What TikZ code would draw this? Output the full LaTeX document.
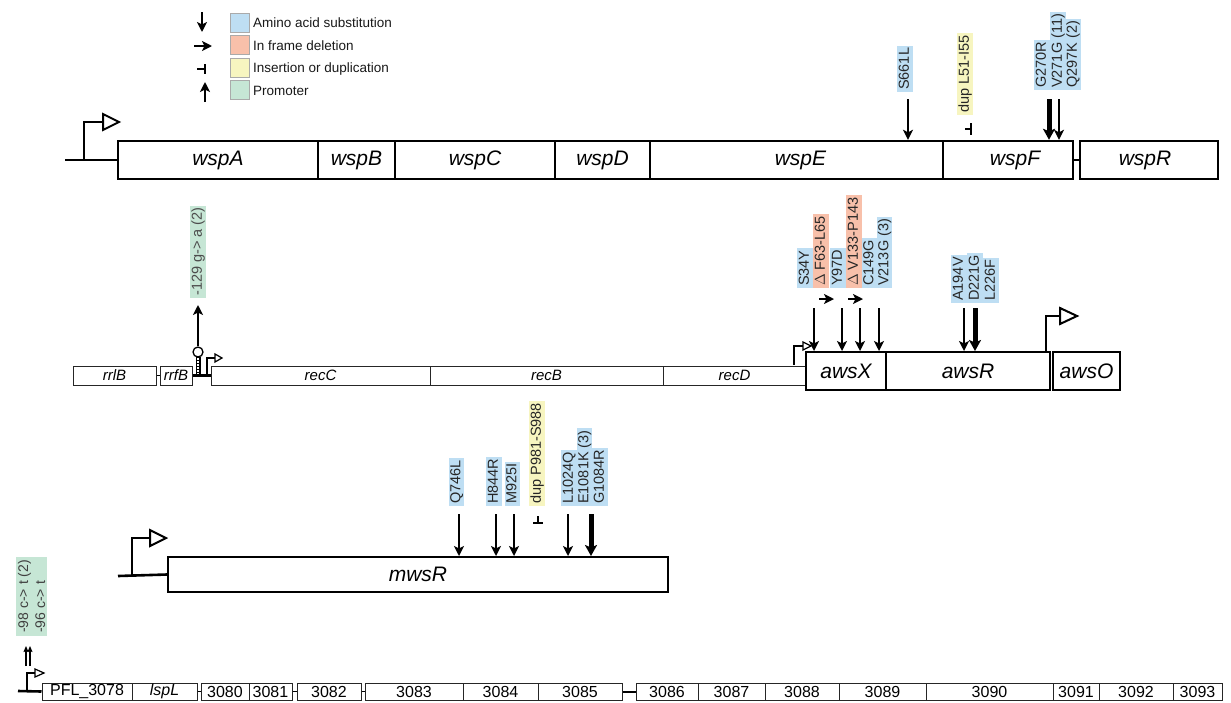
\documentclass[tikz,border=0pt]{standalone}
\usepackage{fontspec}
\setmainfont{Liberation Sans}
\usetikzlibrary{arrows.meta,calc}
\definecolor{blu}{RGB}{190,222,243}
\definecolor{sal}{RGB}{248,192,170}
\definecolor{yel}{RGB}{247,245,192}
\definecolor{grn}{RGB}{198,230,213}
\definecolor{lgray}{RGB}{170,170,170}
\begin{document}
\begin{tikzpicture}[x=1pt,y=-1pt,
  gthick/.style={draw, line width=2.4pt, rectangle, inner sep=0pt, fill=white, font=\fontsize{21}{24}\selectfont\itshape},
  gmid/.style={draw, line width=2pt, rectangle, inner sep=0pt, fill=white, font=\fontsize{21}{24}\selectfont\itshape},
  gthin/.style={draw=black!85, line width=1pt, rectangle, inner sep=0pt, fill=white, minimum height=19pt, font=\fontsize{15}{18}\selectfont\itshape},
  gbot/.style={draw=black!85, line width=1pt, rectangle, inner sep=0pt, fill=white, minimum height=17pt, font=\fontsize{16}{18}\selectfont},
  mlab/.style={rotate=90, anchor=west, inner xsep=2pt, inner ysep=1.2pt, text height=10.5pt, text depth=3pt, font=\fontsize{14.5}{16}\selectfont, text=black!85},
  legbox/.style={draw=lgray, line width=1.5pt, minimum width=19pt, minimum height=19pt, inner sep=0pt},
  legtext/.style={anchor=west, inner sep=0pt, font=\fontsize{13.5}{16}\selectfont, text=black!90},
  dn/.style={-{Stealth[length=10pt,width=10pt,inset=2.5pt]}, line width=2.2pt},
  dnthick/.style={-{Stealth[length=11pt,width=12pt,inset=2.5pt]}, line width=5pt},
  thinup/.style={-{Stealth[length=6pt,width=5pt,inset=1pt]}, line width=1.2pt},
  prom/.style={line width=2pt},
  promthin/.style={line width=1.2pt},
  base/.style={line width=2.6pt},
  ins/.style={line width=2.2pt}
]
\fill[white] (0,0) rectangle (1231,702);
\useasboundingbox (0,0) rectangle (1231,702);

% ---------------- legend ----------------
\coordinate (l1a) at (202,12); \coordinate (l1b) at (202,32);
\draw[dn] (l1a) -- (l1b);
\coordinate (l2a) at (194,46); \coordinate (l2b) at (212,46);
\draw[dn] (l2a) -- (l2b);
\coordinate (l3a) at (197,69); \coordinate (l3b) at (205,69);
\draw[ins] (l3a) -- (l3b);
\draw[line width=2.6pt] ($(l3b)+(0,-5)$) -- ($(l3b)+(0,5)$);
\coordinate (l4a) at (205,102); \coordinate (l4b) at (205,82);
\draw[dn] (l4a) -- (l4b);
\node[legbox, fill=blu] (lb1) at (240,23) {};
\node[legbox, fill=sal] (lb2) at (240,45) {};
\node[legbox, fill=yel] (lb3) at (240,68) {};
\node[legbox, fill=grn] (lb4) at (240,90) {};
\node[legtext] (lt1) at (253,23) {Amino acid substitution};
\node[legtext] (lt2) at (253,46) {In frame deletion};
\node[legtext] (lt3) at (253,69) {Insertion or duplication};
\node[legtext] (lt4) at (253,91) {Promoter};

% ---------------- wsp operon ----------------
\node[gthick, minimum width=200pt, minimum height=38pt] (wspA) at (218,160) {wspA};
\node[gthick, minimum width=77pt, minimum height=38pt] (wspB) at (356.5,160) {wspB};
\node[gthick, minimum width=160pt, minimum height=38pt] (wspC) at (475,160) {wspC};
\node[gthick, minimum width=95pt, minimum height=38pt] (wspD) at (602.5,160) {wspD};
\node[gthick, minimum width=293pt, minimum height=38pt] (wspE) at (796.5,160) {\hspace*{8pt}wspE};
\node[gthick, minimum width=130pt, minimum height=38pt] (wspF) at (1008,160) {\hspace*{14pt}wspF};
\node[gthick, minimum width=138pt, minimum height=38pt] (wspR) at (1149,160) {wspR\hspace*{8pt}};
\draw[base] (wspF.east) -- (wspR.west);
\coordinate (wstart) at (65,160);
\draw[base] (wstart) -- (wspA.west);
\coordinate (wp) at (84,160);
\draw[prom] (wp) |- (103,122);
\draw[prom, fill=white] (103,114) -- (119,122) -- (103,130) -- cycle;

\node[mlab, fill=blu] (S661L) at (905,92) {S661L};
\node[mlab, fill=yel] (dupL51) at (965,115) {dup L51-I55};
\node[mlab, fill=blu] (G270R) at (1042,90) {G270R};
\node[mlab, fill=blu] (V271G) at (1058,90) {V271G (11)};
\node[mlab, fill=blu] (Q297K) at (1073,90) {Q297K (2)};
\coordinate (aS661L) at (908,99);
\draw[dn] (aS661L) -- (aS661L |- wspE.north);
\coordinate (aG270R) at (1049,99);
\draw[dnthick] (aG270R) -- (aG270R |- wspF.north);
\coordinate (aV271G) at (1059,99);
\draw[dn] (aV271G) -- (aV271G |- wspF.north);
\coordinate (iL51) at (971,129);
\draw[ins] ($(iL51)+(-6,0)$) -- (iL51);
\draw[line width=2.6pt] ($(iL51)+(0,-6)$) -- ($(iL51)+(0,6)$);

% ---------------- rec / aws region ----------------
\node[gthin, minimum width=83pt] (rrlB) at (114.5,375.5) {rrlB};
\node[gthin, minimum width=32pt] (rrfB) at (176,375.5) {rrfB};
\node[gthin, minimum width=219pt] (recC) at (320.5,375.5) {recC};
\node[gthin, minimum width=233pt] (recB) at (546.5,375.5) {recB};
\node[gthin, minimum width=143pt] (recD) at (734.5,375.5) {recD};
\draw[line width=1.5pt] (rrlB.east) -- (rrfB.west);
\draw[base] (rrfB.east) -- (recC.west);
% terminator hairpin
\draw[line width=5pt] (198,357) -- (198,375);
\draw[white, line width=1.6pt, dash pattern=on 1.5pt off 1.5pt] (198,358) -- (198,374);
\node[circle, draw, line width=1.3pt, fill=white, minimum size=10pt, inner sep=0pt] (hp) at (198,352) {};
% small promoter
\coordinate (rp) at (207,376);
\draw[promthin] (rp) |- (215,358);
\draw[promthin, fill=white] (215,354) -- (222,358) -- (215,362) -- cycle;
\node[mlab, fill=grn, text=black!70] (p129) at (198,298) {-129 g-> a (2)};
\draw[dn] (hp.north) -- ($(p129.west)+(0,7)$);

\node[gmid, minimum width=80pt, minimum height=38pt] (awsX) at (846,371) {awsX};
\node[gmid, minimum width=164pt, minimum height=38pt] (awsR) at (968,371) {awsR};
\node[gmid, minimum width=67pt, minimum height=38pt] (awsO) at (1086.5,371) {awsO};
\coordinate (xp) at (794,365);
\draw[promthin] (xp) |- (803,346);
\draw[promthin, fill=white] (803,342) -- (811,346) -- (803,350) -- cycle;
\coordinate (op) at (1046,352);
\draw[prom] (op) |- (1060,316);
\draw[prom, fill=white] (1060,308) -- (1077,316) -- (1060,324) -- cycle;

\node[mlab, fill=blu] (S34Y) at (805,288) {S34Y};
\node[mlab, fill=sal] (F63) at (821,288) {$\Delta$ F63-L65};
\node[mlab, fill=blu] (Y97D) at (838,288) {Y97D};
\node[mlab, fill=sal] (V133) at (854,288) {$\Delta$ V133-P143};
\node[mlab, fill=blu] (C149G) at (869.5,288) {C149G};
\node[mlab, fill=blu] (V213G) at (884.5,288) {V213G (3)};
\node[mlab, fill=blu] (A194V) at (959,303) {A194V};
\node[mlab, fill=blu] (D221G) at (975,303) {D221G};
\node[mlab, fill=blu] (L226F) at (991,303) {L226F};
\coordinate (d1) at (819,299); \draw[dn] (d1) -- ++(15,0);
\coordinate (d2) at (848,299); \draw[dn] (d2) -- ++(15,0);
\foreach \n/\xx in {m1/814,m2/842,m3/860,m4/879,m5/964}{
  \coordinate (\n) at (\xx,308);
  \draw[dn] (\n) -- (\n |- awsX.north);
}
\coordinate (m6) at (975,308);
\draw[dnthick] (m6) -- (m6 |- awsR.north);

% ---------------- mwsR ----------------
\node[gmid, minimum width=500pt, minimum height=35pt] (mwsR) at (418,574.5) {mwsR};
\coordinate (mstart) at (118,576);
\draw[base] (mstart) -- (mwsR.west);
\coordinate (mp) at (132,576);
\draw[prom] (mp) |- (150,538);
\draw[prom, fill=white] (150,530) -- (166,538) -- (150,546) -- cycle;

\node[mlab, fill=blu] (Q746L) at (456.5,506) {Q746L};
\node[mlab, fill=blu] (H844R) at (494,506) {H844R};
\node[mlab, fill=blu] (M925I) at (512.5,506) {M925I};
\node[mlab, fill=yel] (P981) at (537,506) {dup P981-S988};
\node[mlab, fill=blu] (L1024Q) at (569,506) {L1024Q};
\node[mlab, fill=blu] (E1081K) at (584.5,506) {E1081K (3)};
\node[mlab, fill=blu] (G1084R) at (600,506) {G1084R};
\foreach \n/\xx in {b1/459,b2/496,b3/514,b4/568}{
  \coordinate (\n) at (\xx,514);
  \draw[dn] (\n) -- (\n |- mwsR.north);
}
\coordinate (b5) at (591,514);
\draw[dnthick] (b5) -- (b5 |- mwsR.north);
\coordinate (iP981) at (538,523);
\draw[ins] ($(iP981)+(0,-7)$) -- (iP981);
\draw[line width=2.6pt] ($(iP981)+(-5,0)$) -- ($(iP981)+(5,0)$);

% ---------------- PFL row ----------------
\node[gbot, minimum width=90pt] (b3078) at (87,691.5) {PFL\_3078};
\node[gbot, minimum width=65pt, font=\fontsize{16}{18}\selectfont\itshape] (lspL) at (164.5,691.5) {lspL};
\node[gbot, minimum width=48pt] (b3080) at (225,691.5) {3080};
\node[gbot, minimum width=43pt] (b3081) at (270.5,691.5) {3081};
\node[gbot, minimum width=64pt] (b3082) at (329,691.5) {3082};
\node[gbot, minimum width=98pt] (b3083) at (414,691.5) {3083};
\node[gbot, minimum width=75pt] (b3084) at (500.5,691.5) {3084};
\node[gbot, minimum width=84pt] (b3085) at (580,691.5) {3085};
\node[gbot, minimum width=62pt] (b3086) at (667,691.5) {3086};
\node[gbot, minimum width=67pt] (b3087) at (731.5,691.5) {3087};
\node[gbot, minimum width=74pt] (b3088) at (802,691.5) {3088};
\node[gbot, minimum width=87pt] (b3089) at (882.5,691.5) {3089};
\node[gbot, minimum width=127pt] (b3090) at (989.5,691.5) {3090};
\node[gbot, minimum width=46pt] (b3091) at (1076,691.5) {3091};
\node[gbot, minimum width=74pt] (b3092) at (1136,691.5) {3092};
\node[gbot, minimum width=49pt] (b3093) at (1197.5,691.5) {3093};
\draw[line width=1.2pt] (lspL.east) -- (b3080.west);
\draw[line width=1.2pt] (b3081.east) -- (b3082.west);
\draw[line width=1.2pt] (b3082.east) -- (b3083.west);
\draw[line width=2pt] (b3085.east) -- (b3086.west);
\coordinate (pstart) at (18,691);
\draw[base] (pstart) -- (b3078.west);
\coordinate (pp) at (27,691);
\draw[promthin] (pp) |- (35,673);
\draw[promthin, fill=white] (35,669) -- (44,673) -- (35,677) -- cycle;
\node[rotate=90, anchor=west, fill=grn, align=left, inner xsep=3pt, inner ysep=2pt, font=\fontsize{14}{17}\selectfont, text=black!75] (p98) at (31.5,636) {-98 c-> t (2)\\-96 c-> t};
\coordinate (u1) at (26,666); \coordinate (u2) at (30,666);
\draw[thinup] (u1) -- ($(u1)+(0,-20)$);
\draw[thinup] (u2) -- ($(u2)+(0,-20)$);
\end{tikzpicture}
\end{document}
